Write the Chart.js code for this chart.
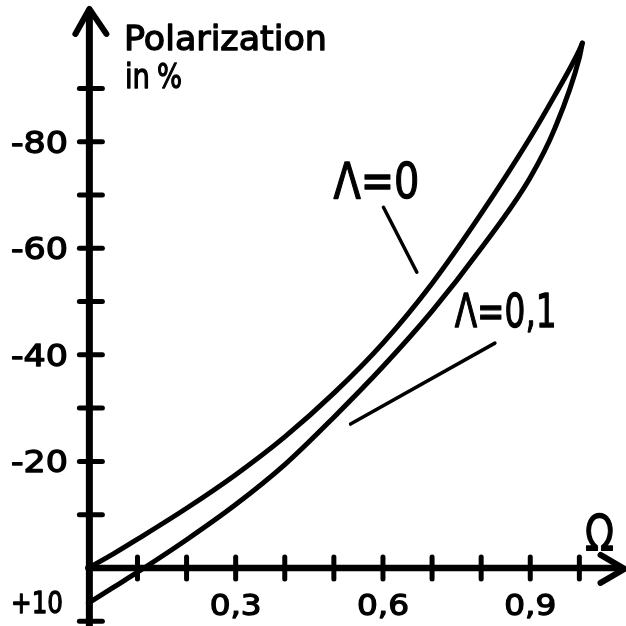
<!DOCTYPE html>
<html>
<head>
<meta charset="utf-8">
<script src="https://cdn.jsdelivr.net/npm/chart.js@4/dist/chart.umd.min.js"></script>
<style>
  html, body { margin: 0; padding: 0; background: #fff; }
  #wrap { width: 626px; height: 626px; position: relative; }
</style>
</head>
<body>
<div id="wrap"><canvas id="chart"></canvas></div>
<script>
// values
const omega = [0, 0.05, 0.1, 0.2, 0.3, 0.4, 0.5, 0.6, 0.7, 0.8, 0.9, 0.95, 1.0, 1.006];
const polLambda0 = [0, -2.6, -5.4, -11.2, -17.5, -24.6, -32.8, -42.2, -53.4, -66.5, -80.8, -88.7, -97.2, -98.5];
const polLambda01 = [6.6, 3.7, 0.8, -5.3, -11.9, -19.4, -28.3, -37.8, -48.2, -60.0, -73.3, -82.5, -95.8, -98.5];

const yTicks = [-90, -80, -70, -60, -50, -40, -30, -20, -10, 10];
const yTickLabels = { '-80': '-80', '-60': '-60', '-40': '-40', '-20': '-20', '10': '+10' };
const xTicks = [0.1, 0.2, 0.3, 0.4, 0.5, 0.6, 0.7, 0.8, 0.9, 1.0];
const xTickLabels = { '0.3': '0,3', '0.6': '0,6', '0.9': '0,9' };

const toPoints = (xs, ys) => xs.map((x, i) => ({ x: x, y: ys[i] }));

// text drawn stretched to the width it has in the picture
function drawFit(ctx, text, left, baseline, width, size) {
    ctx.save();
    ctx.font = size + 'px "DejaVu Sans"';
    const w = ctx.measureText(text).width;
    ctx.translate(left, baseline);
    ctx.scale(width / w, 1);
    ctx.fillStyle = '#000';
    ctx.strokeStyle = '#000';
    ctx.lineWidth = 1.3;
    ctx.lineJoin = 'round';
    ctx.textAlign = 'left';
    ctx.textBaseline = 'alphabetic';
    ctx.fillText(text, 0, 0);
    ctx.strokeText(text, 0, 0);
    ctx.restore();
}

function line(ctx, x1, y1, x2, y2, w) {
    ctx.beginPath();
    ctx.lineWidth = w;
    ctx.moveTo(x1, y1);
    ctx.lineTo(x2, y2);
    ctx.stroke();
}

const handAxes = {
    id: 'handAxes',
    beforeDraw(chart) {
        const ctx = chart.ctx;
        ctx.save();
        ctx.fillStyle = '#fff';
        ctx.fillRect(0, 0, chart.width, chart.height);
        ctx.restore();
    },
    beforeDatasetsDraw(chart) {
        const ctx = chart.ctx;
        const xs = chart.scales.x, ys = chart.scales.y;
        const x0 = xs.getPixelForValue(0);
        const y0 = ys.getPixelForValue(0);
        ctx.save();
        ctx.strokeStyle = '#000';
        ctx.lineCap = 'round';
        ctx.lineJoin = 'round';

        // vertical axis with arrow
        const yTop = ys.getPixelForValue(-105.3);
        line(ctx, x0 + 1, yTop + 4, x0 + 1, chart.height, 7);
        ctx.beginPath();
        ctx.lineWidth = 6;
        ctx.moveTo(x0 - 13, yTop + 27);
        ctx.lineTo(x0 + 1, yTop + 2);
        ctx.lineTo(x0 + 18, yTop + 27);
        ctx.stroke();

        // horizontal axis with arrow
        const xEnd = xs.getPixelForValue(1.092);
        line(ctx, x0, y0, xEnd - 3, y0, 6.5);
        ctx.beginPath();
        ctx.lineWidth = 6;
        ctx.moveTo(xEnd - 24, y0 - 13);
        ctx.lineTo(xEnd, y0 + 1);
        ctx.lineTo(xEnd - 24, y0 + 15);
        ctx.stroke();

        // tick marks across the axes
        yTicks.forEach(v => {
            const py = ys.getPixelForValue(v);
            line(ctx, x0 - 9, py, x0 + 14, py, 5);
        });
        xTicks.forEach(v => {
            const px = xs.getPixelForValue(v);
            line(ctx, px, y0 - 11, px, y0 + 11, 5);
        });

        // tick labels
        Object.keys(yTickLabels).forEach(k => {
            let py = ys.getPixelForValue(Number(k));
            py = Math.min(py, chart.height - 24);
            const txt = yTickLabels[k];
            drawFit(ctx, txt, 11, py + 11, txt === '+10' ? 52 : 57, 30);
        });
        Object.keys(xTickLabels).forEach(k => {
            const px = xs.getPixelForValue(Number(k));
            drawFit(ctx, xTickLabels[k], px - 26, y0 + 47, 52, 29);
        });
        ctx.restore();
    },
    afterDraw(chart) {
        const ctx = chart.ctx;
        const xs = chart.scales.x, ys = chart.scales.y;
        ctx.save();
        ctx.strokeStyle = '#000';
        ctx.lineCap = 'round';

        // axis titles
        drawFit(ctx, 'Polarization', 124, 50, 203, 34);
        drawFit(ctx, 'in', 125, 88, 25, 34);
        drawFit(ctx, '%', 157, 88, 25, 34);
        drawFit(ctx, '\u03A9', 585, 550, 29, 50);

        // curve labels with leader lines
        drawFit(ctx, '\u039B=0', xs.getPixelForValue(0.499), ys.getPixelForValue(-69.4), 86, 49);
        line(ctx, xs.getPixelForValue(0.601), ys.getPixelForValue(-67.7),
             xs.getPixelForValue(0.669), ys.getPixelForValue(-55.5), 3.5);
        drawFit(ctx, '\u039B=0,1', xs.getPixelForValue(0.746), ys.getPixelForValue(-45.2), 102, 47);
        line(ctx, xs.getPixelForValue(0.828), ys.getPixelForValue(-42.2),
             xs.getPixelForValue(0.534), ys.getPixelForValue(-27.0), 3.5);
        ctx.restore();
    }
};

new Chart(document.getElementById('chart'), {
    type: 'scatter',
    data: {
        datasets: [
            {
                label: '\u039B=0',
                data: toPoints(omega, polLambda0),
                showLine: true,
                borderColor: '#000',
                borderWidth: 5,
                borderCapStyle: 'round',
                pointRadius: 0,
                cubicInterpolationMode: 'monotone',
                clip: false
            },
            {
                label: '\u039B=0,1',
                data: toPoints(omega, polLambda01),
                showLine: true,
                borderColor: '#000',
                borderWidth: 5,
                borderCapStyle: 'round',
                pointRadius: 0,
                cubicInterpolationMode: 'monotone',
                clip: false
            }
        ]
    },
    options: {
        responsive: true,
        maintainAspectRatio: false,
        animation: false,
        layout: { padding: 0 },
        scales: {
            x: { type: 'linear', min: -0.18, max: 1.095, display: false },
            y: { type: 'linear', min: -106.6, max: 10.9, reverse: true, display: false }
        },
        plugins: {
            legend: { display: false },
            tooltip: { enabled: false }
        }
    },
    plugins: [handAxes]
});
</script>
</body>
</html>
